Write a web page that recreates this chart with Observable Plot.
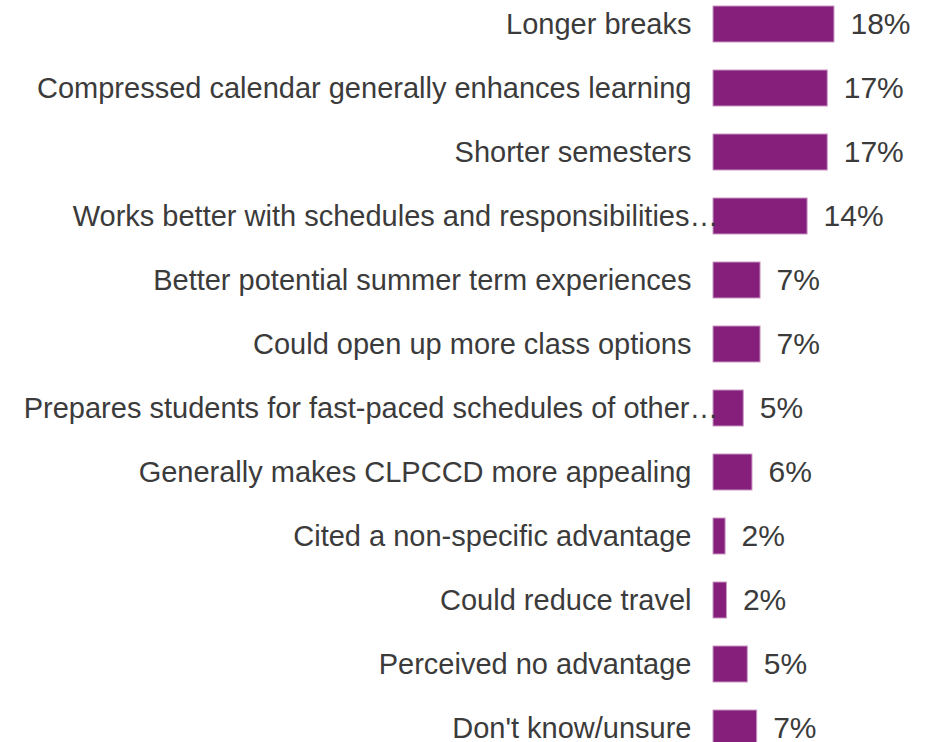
<!DOCTYPE html>
<html>
<head>
<meta charset="utf-8">
<script src="https://cdn.jsdelivr.net/npm/d3@7"></script>
<script src="https://cdn.jsdelivr.net/npm/@observablehq/plot@0.6"></script>
<style>
  html, body { margin: 0; padding: 0; background: #fff; }
  #chart svg { display: block; }
</style>
</head>
<body>
<div id="chart"></div>
<script>
const categories = [
  "Longer breaks",
  "Compressed calendar generally enhances learning",
  "Shorter semesters",
  "Works better with schedules and responsibilities…",
  "Better potential summer term experiences",
  "Could open up more class options",
  "Prepares students for fast-paced schedules of other…",
  "Generally makes CLPCCD more appealing",
  "Cited a non-specific advantage",
  "Could reduce travel",
  "Perceived no advantage",
  "Don't know/unsure"
];
const values = [18.0, 17.0, 17.0, 14.0, 7.0, 7.0, 4.5, 5.8, 1.8, 2.0, 5.1, 6.5];
const valueLabels = ["18%", "17%", "17%", "14%", "7%", "7%", "5%", "6%", "2%", "2%", "5%", "7%"];

const data = categories.map((c, i) => ({category: c, value: values[i], label: valueLabels[i], truncated: c.endsWith("…")}));

const chart = Plot.plot({
  width: 939,
  height: 742,
  marginLeft: 713,
  marginRight: 0,
  marginTop: 0,
  marginBottom: 0,
  style: {fontFamily: "'Liberation Sans', Arial, sans-serif", background: "#fff"},
  x: {domain: [0, 33.63], axis: null},
  y: {domain: categories, range: [-24, 776], padding: 0.44, axis: null},
  marks: [
    Plot.barX(data, {x: "value", y: "category", fill: "#861e7c", stroke: "#c897c3", strokeWidth: 1}),
    Plot.text(data.filter(d => !d.truncated), {
      x: 0, y: "category", text: "category", textAnchor: "end", dx: -22,
      fontSize: 29, fill: "#3b3b3b"
    }),
    Plot.text(data.filter(d => d.truncated), {
      x: 0, y: "category", text: "category", textAnchor: "end", dx: 5,
      fontSize: 29, fill: "#3b3b3b"
    }),
    Plot.text(data, {
      x: "value", y: "category", text: "label", textAnchor: "start", dx: 16,
      fontSize: 30, fill: "#3b3b3b"
    })
  ]
});
document.getElementById("chart").appendChild(chart);
</script>
</body>
</html>
